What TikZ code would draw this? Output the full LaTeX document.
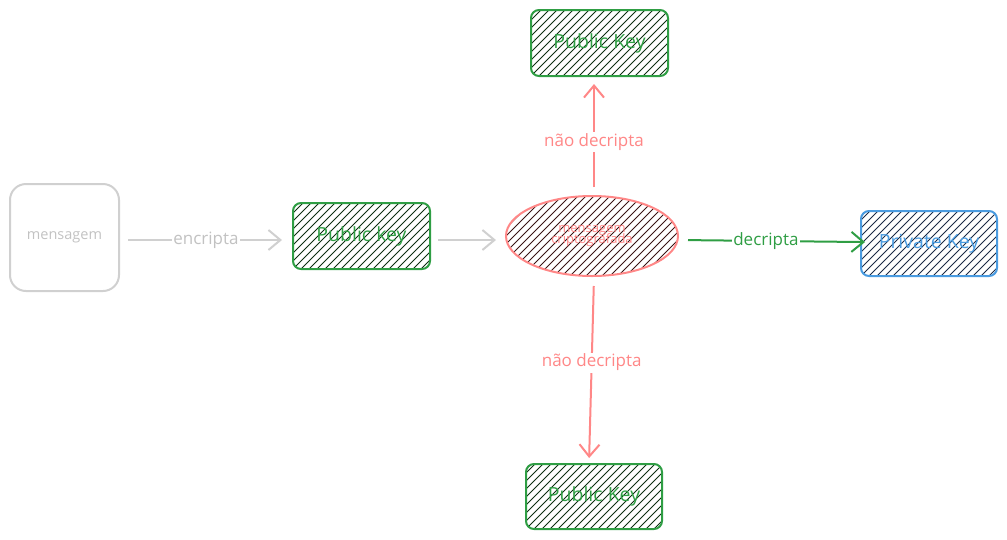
\documentclass[tikz,border=0pt]{standalone}
\usepackage{fontspec}
\setmainfont{Open Sans}
\usetikzlibrary{arrows.meta,calc,shapes.geometric}

\definecolor{inkgray}{HTML}{D0D0D0}
\definecolor{txtgray}{HTML}{C2C2C2}
\definecolor{kgreen}{HTML}{2F9E44}
\definecolor{hgreen}{HTML}{0E2E12}
\definecolor{kred}{HTML}{FF8787}
\definecolor{hred}{HTML}{3A1414}
\definecolor{kblue}{HTML}{4A9BE0}
\definecolor{hblue}{HTML}{1B2A45}

\tikzset{
  x=1pt, y=-1pt,
  hatched/.style={path picture={
    \foreach \i in {-160,-152,...,200}
      \draw[#1, line width=1pt]
        ($(path picture bounding box.south west)+(\i pt,0)$) -- ++(220pt,220pt);
  }},
  keybox/.style={draw=kgreen, line width=2pt, rounded corners=8pt,
    minimum width=137pt, minimum height=66pt, inner sep=0pt,
    text=kgreen, font=\fontsize{19.5}{22}\selectfont, hatched=hgreen},
  privbox/.style={keybox, draw=kblue, text=kblue, hatched=hblue,
    minimum width=136pt, minimum height=65pt},
  msgbox/.style={draw=inkgray, line width=2pt, rounded corners=16pt,
    minimum width=109pt, minimum height=107pt, inner sep=0pt,
    text=txtgray, font=\fontsize{14.5}{16}\selectfont},
  cipher/.style={ellipse, draw=kred, line width=2pt, minimum width=172pt,
    minimum height=80pt, inner sep=0pt, text=kred, align=center,
    font=\fontsize{13}{14}\selectfont, hatched=hred},
  link/.style={line width=2pt, -{Straight Barb[length=12pt,width=20pt,line width=2pt]}},
  tag/.style={fill=white, inner sep=1.5pt, font=\fontsize{17}{19}\selectfont},
}

\begin{document}
\begin{tikzpicture}
  \useasboundingbox (0,0) rectangle (1007,539);

  % nodes
  \node[msgbox] (msg) at (64.5,237.5) {mensagem};
  \node[keybox] (pk1) at (361.5,236) {Public key};
  \node[cipher] (ell) at (592,236) {mensagem\\[-3pt]criptografada};
  \node[keybox] (pkTop) at (599.5,43) {Public Key};
  \node[keybox, minimum width=136pt, minimum height=65pt] (pkBot) at (594,496.5) {Public Key};
  \node[privbox] (priv) at (929,243.5) {Private Key};

  % connectors
  \draw[link, inkgray, shorten <=8pt, shorten >=10pt]
    ($(msg.east)+(0,2.5)$) -- node[tag, text=txtgray] {encripta} ($(pk1.west)+(0,4)$);
  \draw[link, inkgray, shorten <=7pt, shorten >=9pt]
    ($(pk1.east)+(0,4)$) -- ($(ell.west)+(0,4)$);
  \draw[link, kred, shorten <=8pt, shorten >=7pt]
    ($(ell.north)+(2,0)$) -- node[tag, text=kred, pos=0.45] {não decripta} ($(ell.north |- pkTop.south)+(2,0)$);
  \draw[link, kred, shorten <=9pt, shorten >=5pt]
    ($(ell.south)+(2,0)$) -- node[tag, text=kred, pos=0.46] {não decripta} ($(pkBot.north)+(-5,0)$);
  \draw[link, kgreen, shorten <=9pt, shorten >=-5pt]
    ($(ell.east)+(0,4)$) -- node[tag, text=kgreen, pos=0.48] {decripta} ($(priv.west)+(0,-1.5)$);
\end{tikzpicture}
\end{document}
